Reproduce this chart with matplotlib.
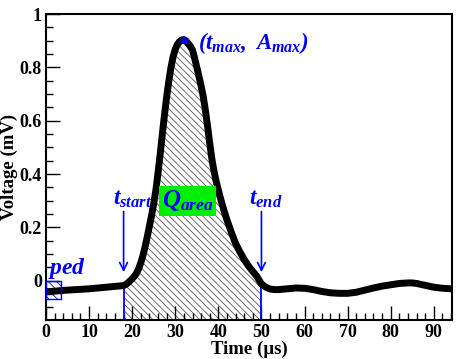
import matplotlib
matplotlib.use("Agg")
import matplotlib.pyplot as plt
import numpy as np
from matplotlib.ticker import MultipleLocator

plt.rcParams['font.family'] = ['Liberation Serif', 'DejaVu Serif']
plt.rcParams['mathtext.fontset'] = 'custom'
plt.rcParams['mathtext.rm'] = 'Liberation Serif:italic:bold'
plt.rcParams['mathtext.it'] = 'Liberation Serif:italic:bold'
plt.rcParams['mathtext.bf'] = 'Liberation Serif:italic:bold'
plt.rcParams['hatch.linewidth'] = 0.6

# Data
time_us = [0, 2, 4, 6, 8, 10, 12, 14, 16, 18, 18.5, 19, 19.5, 20, 20.5, 21, 21.5, 22,
           22.5, 23, 23.5, 24, 24.5, 25, 25.5, 26, 26.5, 27, 27.5, 28, 28.5, 29, 29.5,
           30, 30.5, 31, 31.5, 32, 32.5, 33, 33.5, 34, 34.5, 35, 35.5, 36, 36.5, 37,
           37.5, 38, 38.5, 39, 39.5, 40, 40.5, 41, 41.5, 42, 43, 44, 45, 46, 47, 48,
           49, 50, 51, 52, 53, 54, 56, 58, 60, 62, 64, 66, 68, 70, 72, 74, 76, 78, 80,
           82, 84, 85, 86, 88, 90, 92, 94]
voltage_mv = [-0.041, -0.039, -0.036, -0.034, -0.032, -0.030, -0.027, -0.024, -0.021,
              -0.018, -0.014, -0.008, 0.000, 0.008, 0.017, 0.028, 0.045, 0.068, 0.095,
              0.128, 0.165, 0.205, 0.245, 0.290, 0.340, 0.405, 0.475, 0.550, 0.623,
              0.690, 0.748, 0.800, 0.840, 0.868, 0.886, 0.897, 0.903, 0.904, 0.899,
              0.890, 0.879, 0.865, 0.834, 0.800, 0.766, 0.730, 0.690, 0.638, 0.578,
              0.515, 0.456, 0.410, 0.372, 0.340, 0.309, 0.280, 0.253, 0.228, 0.182,
              0.140, 0.108, 0.080, 0.055, 0.035, 0.015, -0.012, -0.024, -0.031,
              -0.033, -0.033, -0.030, -0.027, -0.028, -0.033, -0.040, -0.045, -0.047,
              -0.047, -0.043, -0.035, -0.027, -0.020, -0.015, -0.010, -0.008, -0.008,
              -0.010, -0.017, -0.024, -0.028, -0.030]
t_start = 18
t_end = 50
t_max = 32
a_max = 0.904
ped_window = [0, 3.4]
ped_level = [-0.068, 0.0]

xlim = (0, 94.2)
ylim = (-0.147, 1.0)

fig = plt.figure(figsize=(4.63, 3.59), dpi=100)
ax = fig.add_axes([0.0994, 0.1086, 0.8766, 0.8524])

t = np.array(time_us)
v = np.array(voltage_mv)

# hatched area between t_start and t_end
mask = (t >= t_start) & (t <= t_end)
ax.fill_between(t[mask], v[mask], ylim[0], facecolor='none', edgecolor='#555555',
                hatch='\\\\\\\\\\', linewidth=0, zorder=1)

# pedestal box
ax.fill_between(ped_window, ped_level[0], ped_level[1], facecolor='none', edgecolor='blue',
                hatch='\\\\\\\\', linewidth=0, zorder=1)
ax.plot([ped_window[0], ped_window[1], ped_window[1], ped_window[0], ped_window[0]],
        [ped_level[0], ped_level[0], ped_level[1], ped_level[1], ped_level[0]],
        color='blue', lw=1.0, zorder=4)

# main curve
ax.plot(t, v, color='black', lw=5, solid_capstyle='round', solid_joinstyle='round',
        zorder=3)

# vertical lines at t_start/t_end
vs = np.interp(t_start, t, v)
ve = np.interp(t_end, t, v)
ax.plot([t_start, t_start], [ylim[0], vs], color='blue', lw=1.3, zorder=2)
ax.plot([t_end, t_end], [ylim[0], ve], color='blue', lw=1.3, zorder=2)

# arrows
for tx in (t_start, t_end):
    ax.annotate('', xy=(tx, 0.022), xytext=(tx, 0.27),
                arrowprops=dict(arrowstyle='->', color='blue', lw=1.2,
                                mutation_scale=14), zorder=5)

# peak marker
ax.plot([t_max], [a_max], marker='*', color='blue', ms=6, zorder=5)

blue = 'blue'
ax.text(t_start + 2.0, 0.265, r'$t_{start}$', color=blue, fontsize=17,
        ha='center', va='bottom', zorder=6)
ax.text(t_end + 1.0, 0.265, r'$t_{end}$', color=blue, fontsize=17,
        ha='center', va='bottom', zorder=6)
ax.text(32.9, 0.30, r'$Q_{area}$', color=blue, fontsize=18, ha='center', va='center',
        zorder=6, bbox=dict(boxstyle='square,pad=0.1', facecolor='#00ee00',
                            edgecolor='none'))
ax.text(35.2, 0.893, r'$(t_{max},\ A_{max})$', color=blue, fontsize=16.5,
        ha='left', va='center', zorder=6)
ax.text(0.5, 0.045, r'$ped$', color=blue, fontsize=17, ha='left', va='center', zorder=6)

ax.set_xlim(*xlim)
ax.set_ylim(*ylim)
ax.xaxis.set_major_locator(MultipleLocator(10))
ax.xaxis.set_minor_locator(MultipleLocator(2))
ax.yaxis.set_major_locator(MultipleLocator(0.2))
ax.yaxis.set_minor_locator(MultipleLocator(0.05))
ax.tick_params(which='both', direction='in', top=False, right=False,
               labelsize=13, width=1)
ax.tick_params(which='major', length=10, pad=3)
ax.tick_params(which='minor', length=5)
ax.set_yticks([0, 0.2, 0.4, 0.6, 0.8, 1.0])
ax.set_yticklabels(['0', '0.2', '0.4', '0.6', '0.8', '1'])
for lab in ax.get_xticklabels() + ax.get_yticklabels():
    lab.set_fontweight('bold')
for s in ax.spines.values():
    s.set_linewidth(1.5)

ax.set_xlabel('Time (\u00b5s)', fontsize=13.5, fontweight='bold', labelpad=0)
ax.set_ylabel('Voltage (mV)', fontsize=13.5, fontweight='bold', labelpad=1)

fig.savefig('out.png', dpi=100)
